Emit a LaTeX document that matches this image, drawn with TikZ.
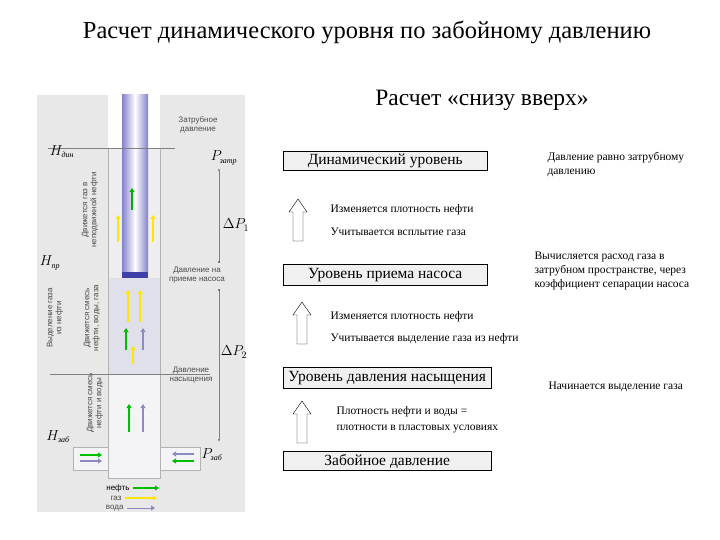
\documentclass[tikz,border=0pt]{standalone}
\usepackage{fontspec}
\setmainfont{Liberation Serif}
\newfontfamily\lsans{Liberation Sans}
\usetikzlibrary{shapes.arrows,arrows.meta}
\newcommand{\sbx}[1]{\mbox{\fontsize{8}{8}\selectfont\itshape #1}}
\newcommand{\holarrow}[1]{\draw[fill=white] (#1) ++(-5,21) -- ++(0,-29) -- ++(-4,0) -- ++(9,-13) -- ++(9,13) -- ++(-4,0) -- ++(0,29) -- cycle;}
\begin{document}
\begin{tikzpicture}[x=1pt,y=-1pt,
 lvl/.style={draw,fill=gray!12,font=\fontsize{15.5}{16}\selectfont,inner sep=1pt,anchor=west},
 note/.style={font=\fontsize{11.5}{14}\selectfont,anchor=west,align=left},
 small/.style={font=\lsans\fontsize{8}{9}\selectfont,align=center,text=gray!60!black},
 lab/.style={font=\fontsize{14}{14}\selectfont\itshape},
 flow/.style={-{Triangle[length=4pt,width=5pt]},line width=2.2pt}]
\useasboundingbox (0,0) rectangle (720,540);
% title
\node (t) at (367,32) {\fontsize{24.5}{26}\selectfont Расчет динамического уровня по забойному давлению};
\node (s) at (482,100) {\fontsize{23.5}{26}\selectfont Расчет «снизу вверх»};
% left figure
\fill[gray!18] (37,95) rectangle (245,512);
\fill[white] (108,95) rectangle (160,148);
\fill[blue!8!gray!12] (108,148) rectangle (160,278);
\fill[blue!20!gray!20] (108,278) rectangle (160,374);
\fill[blue!10!gray!8] (108,374) rectangle (160,478);
\draw[gray!60] (108,148) -- (108,478) -- (160,478) -- (160,148);
\fill[blue!8!gray!8] (73,447) rectangle (108,470);
\fill[blue!8!gray!8] (160,447) rectangle (200,470);
\draw[gray!60] (73,447) rectangle (108,470) (160,447) rectangle (200,470);
\shade[left color=blue!40!gray!70,right color=blue!40!gray!70,middle color=white] (122,95) rectangle (148,272);
\fill[blue!55!black!75] (122,272) rectangle (148,278);
\draw[gray] (48,148) -- (175,148);
\draw[gray] (50,374) -- (210,374);
\node[lab] (hd) at (62,152) {$H_{\sbx{дин}}$};
\node[lab] (hp) at (50,263) {$H_{\sbx{пр}}$};
\node[lab] (hz) at (58,437) {$H_{\sbx{заб}}$};
\node[lab] (pz) at (224,158) {$P_{\sbx{затр}}$};
\node[lab] (pw) at (212,455) {$P_{\sbx{заб}}$};
\node[lab] (d1) at (236,225) {$\Delta P_1$};
\node[lab] (d2) at (234,352) {$\Delta P_2$};
\coordinate (v1) at (219,168); \coordinate (v2) at (219,262);
\coordinate (v3) at (219,290); \coordinate (v4) at (219,442);
\draw[gray,-{Latex[length=3pt]}] (v2) -- (v1);
\draw[gray,-{Latex[length=3pt]}] (v3) -- (v4);
\fill[gray!70!black] (v2) circle (1.2) (v3) circle (1.2);
\node[small] (za) at (198,125) {Затрубное\\давление};
\node[small] (dn) at (197,275) {Давление на\\приеме насоса};
\node[small] (ds) at (191,375) {Давление\\насыщения};
\node[small,rotate=90] (r1) at (90,210) {Движется газ в\\неподвижной нефти};
\node[small,rotate=90] (r2) at (55,318) {Выделение газа\\из нефти};
\node[small,rotate=90] (r3) at (92,318) {Движется смесь\\нефти, воды, газа};
\node[small,rotate=90] (r4) at (95,403) {Движется смесь\\нефти и воды};
% flows
\draw[flow,yellow!90!orange] (118,242) -- (118,215);
\draw[flow,yellow!90!orange] (153,242) -- (153,215);
\draw[flow,green!70!black,line width=1.5pt] (132,210) -- (132,188);
\draw[flow,yellow!90!orange] (128,322) -- (128,290);
\draw[flow,yellow!90!orange] (140,322) -- (140,290);
\draw[flow,green!75!black] (126,350) -- (126,328);
\draw[flow,blue!30!gray!70] (143,350) -- (143,328);
\draw[flow,yellow!90!orange] (133,364) -- (133,346);
\draw[flow,green!75!black] (129,432) -- (129,404);
\draw[flow,blue!30!gray!70] (143,432) -- (143,404);
\draw[flow,green!75!black] (80,455) -- (102,455);
\draw[flow,blue!30!gray!70] (80,461) -- (102,461);
\draw[flow,blue!30!gray!70] (194,454) -- (172,454);
\draw[flow,green!75!black] (194,461) -- (172,461);
\node[small,text=black,anchor=east] (ln) at (133,488) {нефть};
\node[small,anchor=east] (lg) at (125,498) {газ};
\node[small,anchor=east] (lv) at (127,508) {вода};
\draw[flow,green!75!black,line width=1.5pt] (ln.east) -- ++(26,0);
\draw[flow,yellow!90!orange,line width=1.5pt] (lg.east) -- ++(32,0);
\draw[flow,blue!30!gray!70,line width=1pt] (lv.east) -- ++(28,0);
% right part
\node[lvl,minimum width=204,minimum height=19] (b1) at (283,161) {Динамический уровень};
\node[lvl,minimum width=204,minimum height=21] (b2) at (283,275) {Уровень приема насоса};
\node[lvl,minimum width=208,minimum height=21] (b3) at (283,378) {Уровень давления насыщения};
\node[lvl,minimum width=208,minimum height=19] (b4) at (283,461) {Забойное давление};
\coordinate (a1) at (298,220);
\coordinate (a2) at (302,323);
\coordinate (a3) at (302,422);
\holarrow{a1} \holarrow{a2} \holarrow{a3}
\node[note] (n1) at (327,210) {Изменяется плотность нефти};
\node[note] (n2) at (327,232) {Учитывается всплытие газа};
\node[note] (n3) at (327,317) {Изменяется плотность нефти};
\node[note] (n4) at (327,339) {Учитывается выделение газа из нефти};
\node[note,font=\fontsize{11.5}{16}\selectfont] (n5) at (333,420) {Плотность нефти и воды =\\плотности в пластовых условиях};
\node[note] (n6) at (544,164) {Давление равно затрубному\\давлению};
\node[note] (n7) at (531,271) {Вычисляется расход газа в\\затрубном пространстве, через\\коэффициент сепарации насоса};
\node[note] (n8) at (545,387) {Начинается выделение газа};
\end{tikzpicture}
\end{document}
